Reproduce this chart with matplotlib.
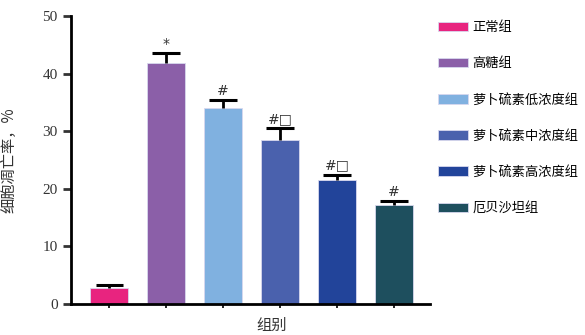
import matplotlib
matplotlib.use('Agg')
import matplotlib.pyplot as plt
from matplotlib.patches import Patch

plt.rcParams['font.family'] = ['Noto Sans CJK SC', 'DejaVu Sans']

# データ
groups = ['正常组', '高糖组', '萝卜硫素低浓度组', '萝卜硫素中浓度组', '萝卜硫素高浓度组', '厄贝沙坦组']
rates = [2.8, 41.8, 34.0, 28.4, 21.5, 17.2]
errs = [0.45, 1.7, 1.4, 2.1, 0.9, 0.6]
marks = ['', '*', '#', '#□', '#□', '#']
colors = ['#E8247F', '#8B5FA8', '#80B1E0', '#4A61AD', '#22449A', '#1E4F5E']

fig = plt.figure(figsize=(5.85, 3.35), dpi=100)
ax = fig.add_axes([71 / 585, 31 / 335, 359 / 585, 288 / 335])

x = list(range(len(groups)))
ax.bar(x, rates, width=0.67, color=colors, edgecolor='#d8d8ee', linewidth=0.6, zorder=2)
# 上側だけのエラーバー
tops = [r + e for r, e in zip(rates, errs)]
ax.vlines(x, rates, tops, color='black', linewidth=2, zorder=3)
ax.hlines(tops, [xi - 0.24 for xi in x], [xi + 0.24 for xi in x], color='black',
          linewidth=2.2, zorder=3)

# 有意差記号
for xi, t, m in zip(x, tops, marks):
    if m:
        ax.text(xi, t + 0.4, m, ha='center', va='bottom', fontsize=10,
                family=['DejaVu Sans', 'Noto Sans CJK SC'], color='#333333')

ax.set_xlim(-0.67, 5.63)
ax.set_ylim(0, 50)
ax.set_yticks([0, 10, 20, 30, 40, 50])
ax.set_xticks(x)
ax.set_xticklabels([])
for side in ['top', 'right']:
    ax.spines[side].set_visible(False)
ax.spines['left'].set_linewidth(2)
ax.spines['bottom'].set_linewidth(2)
ax.tick_params(axis='y', direction='out', length=6, width=2, labelsize=11, colors='#333333')
ax.tick_params(axis='x', direction='out', length=3, width=1.2)
for lab in ax.get_yticklabels():
    lab.set_family('Liberation Serif')

ax.set_ylabel('细胞凋亡率，%', fontsize=11, color='#333333')
ax.yaxis.set_label_coords(-0.15, 0.5)
ax.set_xlabel('组别', fontsize=11, color='#333333')
ax.xaxis.set_label_coords(0.56, -0.045)

# 凡例
handles = [Patch(facecolor=c, edgecolor='#d8d8ee', linewidth=0.6) for c in colors]
fig.legend(handles, groups, loc='upper left', bbox_to_anchor=(438 / 585, 1 - 21 / 335),
           frameon=False, fontsize=9.5, handlelength=2.3, handleheight=0.75,
           labelspacing=1.76, handletextpad=0.3, borderaxespad=0, borderpad=0)

plt.savefig('out.png', dpi=100)
